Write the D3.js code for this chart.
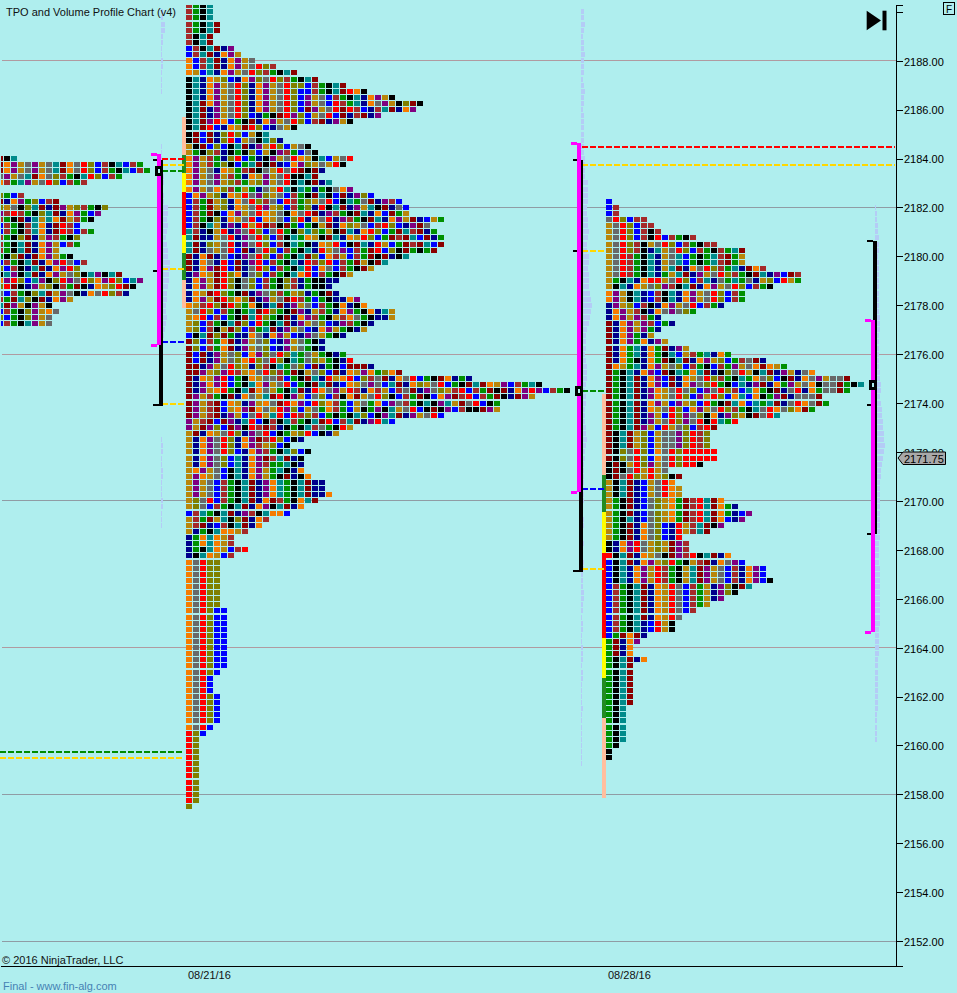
<!DOCTYPE html>
<html><head><meta charset="utf-8">
<style>
html,body{margin:0;padding:0;background:#afeeee;}
svg{display:block;font-family:"Liberation Sans",Arial,sans-serif;}
</style>
<script src="https://cdn.jsdelivr.net/npm/d3@7/dist/d3.min.js"></script>
</head><body><svg id="c" width="957" height="993"></svg>
<script>
const axisTicks=[2190,2188,2186,2184,2182,2180,2178,2176,2174,2172,2170,2168,2166,2164,2162,2160,2158,2156,2154,2152];
const gridWarm=[2188,2176,2164];
const gridCool=[2182,2170,2158,2152];
const lastPrice=2171.75;

// TPO cells per 0.25 row, top price first
const mainTop=2190.25;
const mainCounts=[4,4,4,5,5,4,4,7,8,10,13,16,19,23,26,30,34,33,28,24,16,12,14,18,19,24,23,20,19,21,24,27,31,32,32,37,35,36,37,37,36,32,29,27,24,22,21,22,25,26,30,30,27,26,23,20,20,23,24,27,31,41,51,55,50,45,45,37,30,24,22,17,15,18,17,17,17,18,20,20,21,19,17,15,12,11,9,7,7,9,7,5,5,5,5,5,5,5,5,6,6,6,6,6,6,6,6,6,6,5,4,4,4,5,5,5,5,5,4,3,2,2,2,2,2,2,2,2,2,2,2,1];
const rightTop=2182.25;
const rightCounts=[1,2,2,6,7,8,13,16,20,20,20,23,28,28,24,20,20,17,13,8,10,8,7,9,12,18,23,26,30,35,37,35,31,32,30,25,19,16,15,15,15,16,16,14,9,11,10,11,11,17,19,21,20,17,15,11,12,12,18,20,23,23,24,21,19,17,15,13,11,10,10,6,5,4,4,6,4,4,4,4,4,4,4,3,3,3,3,3,3,2,1,1];
const leftTop=2184;
const leftCounts=[3,21,22,18,13,0,4,9,16,15,14,12,14,12,12,9,11,13,12,18,21,20,19,11,8,9,8,8];

// colours of the cells, one string per group of rows [first row, last row, colours]
const colourNames={k:"#000000",t:"#008b8b",n:"#00008b",o:"#f57c00",g:"#b8860b",y:"#696969",r:"#ff0000",v:"#808000",b:"#0000ff",w:"#a52a2a",e:"#009000",d:"#8b0000",p:"#800080"};
const mainBands=[[1,3,"wekt"],[4,5,"wektd"],[6,7,"wktd"],[8,8,"bwktdnp"],[9,9,"bwtdnopg"],[10,10,"obwtdnopgy"],[11,11,"obwtdnopgyrvw"],[12,12,"ogbtnopgyrvwektd"],[13,13,"ktnogvbnopvyrvwektd"],[14,14,"ktnopgyrvnopgyrvvbwektd"],[15,15,"ktnopgyrvnopgyrvbbwektdrok"],[16,16,"ktnopgyrvnopgyrvbpgybwektnopgkd"],[17,17,"ktdopgyrvnopgyrvbpgybrwetnoypgkvdkn"],[18,18,"ktdnpgyrvnopgyrvbdpgyrdrwbnwtdnopgkv"],[19,19,"ktdnpgyrvbnekdrpvbgyrbdnwdnpgk"],[20,20,"ktdprobekdnopgyrvbwdnpgkt"],[21,21,"ktdrbnogdrvbnygkt"],[22,22,"kdbdnvrvbgkt"],[23,23,"kdbdnvrbgyktvn"],[24,24,"gkdbvbktdnpgrvbgyktv"],[25,25,"gekvwnkekvbgkpwebyktv"],[26,26,"opgwenvrbenkpgyrogktbgyrkt"],[27,27,"opgwevkbetdkdnbopvgygrkt"],[28,28,"opgynogewdkygryrdkdn"],[29,29,"opgypgwenogpgyrkktdn"],[30,30,"opgypgvwegvpgyrktkdnt"],[31,31,"opgyovwegenygrtkteneky"],[32,32,"bopgvnogrypvgybwekdtkbdnpv"],[33,33,"bwedgvnoyrvwybrwevgyrbkteydnpw"],[34,34,"bwedgvnogyrpgvbwevnrktdnpgtkdny"],[35,35,"bwedkbopgyrogykoyrdnpwekdtnobdeg"],[36,36,"bwekvnogyrbogybvrnoyrnpwekdtnopgdnbge"],[37,37,"bwktgnpnrgrdwkdebekgdnovgybwrvbnpdy"],[38,38,"twnkgrnpyrvbyrekvtvegkdtnorvbedtwdne"],[39,39,"tdnngyrnpyrvbwkteogkdtnogrvbedwdtbdne"],[40,40,"tdnvgyrnpyrvbwkteknogrbkdtnrgbedwdtbd"],[41,41,"tdnygyrbdnyrvbwektnrgypbwedrbvkdekedn"],[42,42,"dnodnybnpyrvbwektdvbowgbwedkdnktp"],[43,43,"dnoynrbdnprbwektnrwvrbwedgkdtnyo"],[44,44,"dnopdrbdnyrvbwektrboybwekdgwnekd"],[45,45,"npogdrvonyvbwektorbwekdgkn"],[46,47,"nopgdrvkyvbwekvwnekkn"],[48,48,"nogdrvekdnpyvwegvnekdn"],[49,49,"nopgdrvovdnpgydrwebekn"],[50,50,"ogwrvdrveokntdnpgybwekonk"],[51,51,"gyrvbweketdrvekdpngwenopekont"],[52,52,"gorbwbekdtrvekdnopwekgwoyeknn"],[53,53,"gvbwektdvbrektdnpgyvbnpwekn"],[54,54,"gvbwkgdvbwetdnpgybnopgekn"],[55,55,"bktdvdennoynopgbnpygekn"],[56,57,"dvbweodnpgyvbnpgyeknn"],[58,58,"dbdnpgyvbopvyrvteygeknen"],[59,59,"dbdnpgyvorvyrvkteyvgeknr"],[60,60,"ddnpgyrvgnvwkteyvbdnekbd"],[61,61,"ddpgvprwgoyrvwedkgyvbdnogpoevo"],[62,62,"dnogprbekogyywbekdtnrgorbvwydnoyrbekdoneny"],[63,63,"dnpoprbektopgyrbekdtdnbogypybtdnovgyrbekdtdogpbwetk"],[64,64,"dnpgorektdoygektdnroypgrwnowgbwydnpyvgwrbwedkdnoprpbwek"],[65,65,"dpgwekdnoygtdrkpgbyvbwkodgyrvkbwedkbopdwrbwedkn"],[66,66,"dpgwdbognpgoydropbrvowebgyeobpywektkptgdyrbke"],[67,67,"dpgwdbgopdoygrpvbgyeowebgkepktgyrbkdkpbwkk"],[68,68,"dpgwdnpgbyrgtrbrwvwbekektvbkptdnpgyrbwktb"],[69,69,"pgwdbdpntrbkwktwektdrbwtdnprtbwkn"],[70,70,"pgdpvbdpkrwdwnkektwyekrgktn"],[71,71,"gdnogyrvnpyrbkegvrbkn"],[72,72,"gnopyrvnopdwrvbkn"],[73,73,"gnopyrvnopwgvbk"],[74,74,"gnopyrvbnopwektvbkn"],[75,75,"gnopyvbtnopdwtdnkn"],[76,76,"gnopyvbtnopweetkn"],[77,77,"gopgybktnopgetkno"],[78,78,"gpogybktnopgekdnko"],[79,81,"gpgybwektdnpotektdnnoo"],[82,82,"gvyrbwektdnodwekotdnvo"],[83,83,"gvybwektdnopktdno"],[84,84,"bwtektdnpwktoo"],[85,85,"gwedgtkvdnow"],[86,86,"gwdnbwktdno"],[87,87,"gnektoogw"],[88,89,"neotogw"],[90,90,"nektogbwr"],[91,91,"nktogbw"],[92,99,"oyrvv"],[100,109,"oyrvbb"],[110,110,"oyrvb"],[111,113,"oyrb"],[114,118,"oyrvb"],[119,119,"oyrb"],[120,120,"rvb"],[121,131,"rv"],[132,132,"v"]];
const rightBands=[[1,1,"b"],[2,3,"bw"],[4,4,"yrvbww"],[5,5,"gyrvbww"],[6,6,"gyrvbwkw"],[7,7,"gyrvbwkrbwekw"],[8,8,"gyrvwkgyrvbwekwww"],[9,9,"gyrvwkntgyrvbwekwetd"],[10,11,"gyrwektngytbeketwde"],[12,12,"gyrwektngtdnoyrvwetndowe"],[13,13,"gyrwektnegtdnpgyrvwekdtnpbdwe"],[14,14,"gektnorrgyrvbwtnyeteyngvbrge"],[15,15,"gktnogyvpwktdnopgyrvbwek"],[16,17,"opgktnbwktnopgyrvbwe"],[18,18,"npgvbwknopgyrbwe"],[19,19,"nopgwknoypyve"],[20,20,"nopgpwe"],[21,21,"dnopgpwben"],[22,22,"dnopgpen"],[23,23,"dnopeng"],[24,24,"dnopeonpg"],[25,25,"dnoetnoednpgy"],[26,26,"dnoetnoektbgwetnoe"],[27,27,"dnoeknoedktdnopgvbewy"],[28,28,"dogetnopgyvbwekbwepgyo"],[29,29,"dektnopbdkteotdnkvyrgktdnpgnyo"],[30,30,"dektdnopbdnogyrvwekteoyvbkdnoypgyy"],[31,31,"dektdnopbdnopyvrekbtnpdnoepgyokyy"],[32,32,"dektdnpogyryvbpyrvwbtoekdnyrnoeyy"],[33,33,"dektdnpogyrvbpgrvbotbokepdnyyy"],[34,34,"dektdnopgbpgvbrekdtobtetdnyroy"],[35,35,"dektdnogyrvbopgyrvwektyroyvo"],[36,36,"dektdnpgbrvpyvkonpvgkdyrt"],[37,37,"dektdnpgyrvpyrkrter"],[38,38,"dektdpgbrgyvbwr"],[39,41,"dktdgvbgyypvrwvr"],[42,43,"dkvyrvboyrvrrrrr"],[44,44,"kdkgrvpgyrvrr"],[45,45,"kdkyrgrgyr"],[46,46,"kdyrvgrgv"],[47,49,"gktdnbgyro"],[50,52,"gekdnbyvgoedwrtdoenbp"],[53,53,"gektnbyvgoedwrtdobnp"],[54,56,"gekdnoyvbnrgwtdkp"],[57,58,"knoprygvgdpw"],[59,59,"rktdnogykdpw"],[60,60,"bktdnopgvrekgwdnoyp"],[61,63,"bktnopgrwekgtdpgybwnop"],[64,66,"bwektdnogrybwegnpvkdt"],[67,69,"bwektdnogrybwegnp"],[70,71,"bwektnbrgkngn"],[72,72,"bedodnp"],[73,73,"ednop"],[74,75,"edno"],[76,76,"ektdno"],[77,83,"ektd"],[84,89,"ekt"],[90,90,"ek"],[91,92,"k"]];
const leftBands=[[1,1,"dkt"],[2,2,"dopgypgytdoyrvbwktbwe"],[3,3,"dopgypgytdoyrvbwektbwe"],[4,4,"ypgytdoyvwektrvbwe"],[5,5,"owetpgyrvbwew"],[7,7,"vebw"],[8,8,"dnopevbw"],[9,9,"vgykvtdndpgvwek"],[10,10,"pwrwekvtdnopeb"],[11,11,"wekdntgtodg"],[12,13,"bwekwtondrw"],[14,14,"wekvdngp"],[15,16,"wektdnopgb"],[17,17,"ekvdndopg"],[18,18,"bwektdnopry"],[19,19,"vbwkntdnoprv"],[20,20,"ktpktdnopgyv"],[21,21,"oprvbtpkvrpyrv"],[22,22,"vrdknpgvkwedknog"],[23,23,"ybwekvtdgpyknoyrvwn"],[24,24,"wedtvkdnopgybkn"],[25,25,"tdpgkpgkedr"],[26,26,"bwekvpgoy"],[27,27,"vbekvpgy"],[28,28,"bwektpgy"]];

// volume bars per 0.25 row, starting at 2190.00
const volumeTop=2190;
const volumeLeft=[2,2,4,4,2,2,1,1,2,2,1,1,1,1,0,0,0,0,0,0,0,0,1,1,1,1,2,3,3,2,3,3,7,7,6,7,6,5,6,7,7,9,9,8,8,7,6,6,5,5,6,5,4,3,0,0,0,0,0,0,0,0,0,0,0,0,0,0,0,0,1,2,2,1,1,2,2,1,1,1,2,2,1,1,1];
const volumeMid=[3,3,4,3,2,3,3,4,3,3,3,2,3,4,3,3,2,3,3,3,3,3,3,3,4,4,4,4,7,7,7,7,6,6,7,7,8,7,6,6,8,8,7,8,8,8,9,10,11,10,9,8,6,5,5,5,4,5,6,6,6,5,4,5,5,4,4,4,5,5,6,5,4,4,3,3,3,3,2,3,3,2,2,3,3,2,2,3,2,2,3,3,2,2,2,3,3,2,2,1,2,2,1,1,2,2,2,1,2,2,1,1,1,1,2,1,1,1,1,1,1,1,1,1];
const volumeRightTop=2182;
const volumeRight=[1,2,2,3,3,4,4,4,3,4,4,4,4,4,4,4,4,4,5,5,5,4,4,4,4,4,4,5,5,6,6,5,6,7,7,8,8,9,9,10,9,8,7,6,6,5,5,5,5,5,5,5,5,5,5,4,4,4,4,5,5,5,5,5,5,5,5,5,5,4,4,4,4,4,3,3,3,3,3,3,3,3,3,2,2,2,2,2];

// coloured strips beside the profiles: [from price, to price, colour]
const mainStrip=[[2185.7,2184.15,"#ffbe9e"],[2184.15,2183.4,"#228b22"],[2183.4,2182.63,"#ffff00"],[2182.63,2180.87,"#ff0000"],[2180.87,2180.13,"#ffff00"],[2180.13,2179.03,"#228b22"],[2179.03,2177.89,"#ffbe9e"]];
const rightStrip=[[2174.37,2171.07,"#ffbe9e"],[2171.07,2169.55,"#228b22"],[2169.55,2167.87,"#ffff00"],[2167.87,2164.4,"#ff0000"],[2164.4,2162.76,"#ffff00"],[2162.76,2161.13,"#228b22"],[2161.13,2157.86,"#ffbe9e"]];

// dashed levels: [price, colour]
const mainLevels=[[2184,"#ff0000"],[2183.75,"#ffd700"],[2183.5,"#008b00"],[2179.5,"#ffd700"],[2176.5,"#0000ff"],[2174,"#ffd700"]];
const rightShort=[[2180.25,"#ffd700"],[2174.5,"#008b00"],[2170.5,"#0000ff"],[2167.25,"#ffd700"]];
const rightLong=[[2184.5,"#ff0000"],[2183.75,"#ffd700"]];
const farLeftLevels=[[2159.75,"#008b00"],[2159.5,"#ffd700"]];

const svg=d3.select("#c");
const y=d3.scaleLinear().domain([2190.277,2150.98]).range([5,966]);
const W=896;
const col=x0=>d3.scaleLinear().domain([0,1]).range([x0,x0+7]);
const rowY=p=>Math.round(y(p)-2.5);
svg.append("defs").append("clipPath").attr("id","plot").append("rect").attr("x",1).attr("y",5).attr("width",W-1).attr("height",961);

// grid
const grid=svg.append("g").attr("shape-rendering","crispEdges");
const gy=d=>Math.floor(y(d))+.5;
grid.selectAll("line.w").data(gridWarm).join("line").attr("x1",2).attr("x2",W).attr("y1",gy).attr("y2",gy).attr("stroke","#b09aa0");
grid.selectAll("line.c").data(gridCool).join("line").attr("x1",2).attr("x2",W).attr("y1",gy).attr("y2",gy).attr("stroke","#909ca4");

// volume
function volume(data,top,x0){
  svg.append("g").attr("clip-path","url(#plot)").attr("shape-rendering","crispEdges").selectAll("rect").data(data).join("rect")
    .attr("x",x0).attr("y",(d,i)=>rowY(top-.25*i)).attr("width",d=>d).attr("height",5).attr("fill","#b4ccf6");
}
volume(volumeLeft,volumeTop,161);
volume(volumeMid,volumeTop,581);
volume(volumeRight,volumeRightTop,875);

// TPO
function profile(counts,bands,top,x0){
  const g=svg.append("g").attr("clip-path","url(#plot)").attr("shape-rendering","crispEdges");
  const x=col(x0);
  const cells=[];
  counts.forEach((n,r)=>{
    const b=bands.find(a=>r+1>=a[0]&&r+1<=a[1]);
    for(let c=0;c<n;c++) cells.push({r,c,k:b?b[2][c%b[2].length]:"y"});
  });
  g.selectAll("rect").data(cells).join("rect")
    .attr("x",d=>x(d.c)).attr("y",d=>rowY(top-.25*d.r)).attr("width",6).attr("height",5)
    .attr("fill",d=>colourNames[d.k]);
}
profile(leftCounts,leftBands,leftTop,-3);
profile(mainCounts,mainBands,mainTop,186);
profile(rightCounts,rightBands,rightTop,606);

// strips
function strip(data,x0){
  svg.append("g").attr("shape-rendering","crispEdges").selectAll("rect").data(data).join("rect")
    .attr("x",x0).attr("width",4).attr("y",d=>Math.round(y(d[0]))).attr("height",d=>Math.round(y(d[1]))-Math.round(y(d[0]))).attr("fill",d=>d[2]);
}
strip(mainStrip,182);
strip(rightStrip,602);

// dashed levels
function levels(data,x1,x2){
  const ly=d=>Math.round(y(d[0])+.5);
  svg.append("g").selectAll("line").data(data).join("line").attr("shape-rendering","crispEdges")
    .attr("x1",x1).attr("x2",x2).attr("y1",ly).attr("y2",ly)
    .attr("stroke",d=>d[1]).attr("stroke-width",2).attr("stroke-dasharray","6,2");
}
levels(farLeftLevels,0,184);
levels(mainLevels,162,184);
levels(rightShort,582,604);
levels(rightLong,582,895);

// brackets
function bracket(black,mag,ticks,poc){
  const g=svg.append("g").attr("shape-rendering","crispEdges");
  const vb=(b,f)=>g.append("rect").attr("x",b[0]).attr("width",4).attr("y",y(b[1])).attr("height",y(b[2])-y(b[1])).attr("fill",f);
  vb(black,"#000"); vb(mag,"#ff00ff");
  ticks.forEach(t=>g.append("rect").attr("x",t[0]).attr("width",t[1]).attr("y",Math.round(y(t[2]))-1).attr("height",t[3]=="#ff00ff"?3:2).attr("fill",t[3]));
  g.append("rect").attr("x",poc[0]+1.5).attr("y",Math.round(y(poc[1]))-3.5).attr("width",5).attr("height",7).attr("fill","#afeeee").attr("stroke","#000").attr("stroke-width",3).attr("shape-rendering","auto");
}
bracket([159,2183.94,2173.92],[157,2184.19,2176.37],[[151,6,2184.19,"#ff00ff"],[151,6,2176.37,"#ff00ff"],[153,4,2183.94,"#000"],[153,4,2179.42,"#000"],[153,10,2173.92,"#000"]],[155,2183.5]);
bracket([579,2183.94,2167.13],[577,2184.63,2170.36],[[571,6,2184.63,"#ff00ff"],[571,6,2170.36,"#ff00ff"],[573,4,2183.94,"#000"],[573,4,2180.2,"#000"],[573,10,2167.13,"#000"]],[575,2174.5]);
bracket([873,2180.63,2168.65],[871,2177.4,2164.63],[[865,6,2177.4,"#ff00ff"],[865,6,2164.63,"#ff00ff"],[867,6,2180.63,"#000"],[867,4,2173.9,"#000"],[867,4,2168.65,"#000"]],[869,2174.75]);

// axis
const axis=d3.axisRight(y).tickValues(axisTicks).tickSize(7).tickPadding(1).tickFormat(d=>d===2190?"":d3.format(".2f")(d));
const ag=svg.append("g").attr("transform",`translate(${W},0)`).call(axis);
ag.select(".domain").attr("stroke","#000").attr("shape-rendering","crispEdges");
ag.selectAll(".tick line").attr("stroke","#000").attr("shape-rendering","crispEdges");
ag.selectAll("text").attr("font-size",11).attr("dy","0.4em").attr("font-family",'"Liberation Sans",Arial,sans-serif').attr("fill","#000");
svg.append("line").attr("x1",1).attr("x2",W+1).attr("y1",966).attr("y2",966).attr("stroke","#000").attr("shape-rendering","crispEdges");

// last price marker
const py=Math.round(y(lastPrice));
const marker=d3.line()([[898,py],[903,py-6],[945.5,py-6],[945.5,py+6.5],[903,py+6.5]]);
svg.append("path").attr("d",marker+"Z").attr("fill","#a9a9a9").attr("stroke","#000");
svg.append("text").attr("x",904).attr("y",py+4.5).attr("font-size",11).text(d3.format(".2f")(lastPrice));

// end button
svg.append("path").attr("d",d3.line()([[866.7,10.7],[881,20.5],[866.7,30.3]])+"Z").attr("fill","#000");
svg.append("rect").attr("x",882.5).attr("y",10.7).attr("width",4).attr("height",19.6).attr("fill","#000");
svg.append("rect").attr("x",943.5).attr("y",2.5).attr("width",11).attr("height",12).attr("fill","none").attr("stroke","#000");
svg.append("text").attr("x",949).attr("y",12.5).attr("text-anchor","middle").attr("font-size",10).text("F");

// texts
const t=(x,yy,s,f)=>svg.append("text").attr("x",x).attr("y",yy).attr("font-size",11).attr("fill",f||"#111").text(s);
t(6,16,"TPO and Volume Profile Chart (v4)");
t(2,964,"© 2016 NinjaTrader, LLC");
t(188,979,"08/21/16");
t(608,979,"08/28/16");
t(3,990,"Final - www.fin-alg.com","#4682b4");
</script></body></html>
